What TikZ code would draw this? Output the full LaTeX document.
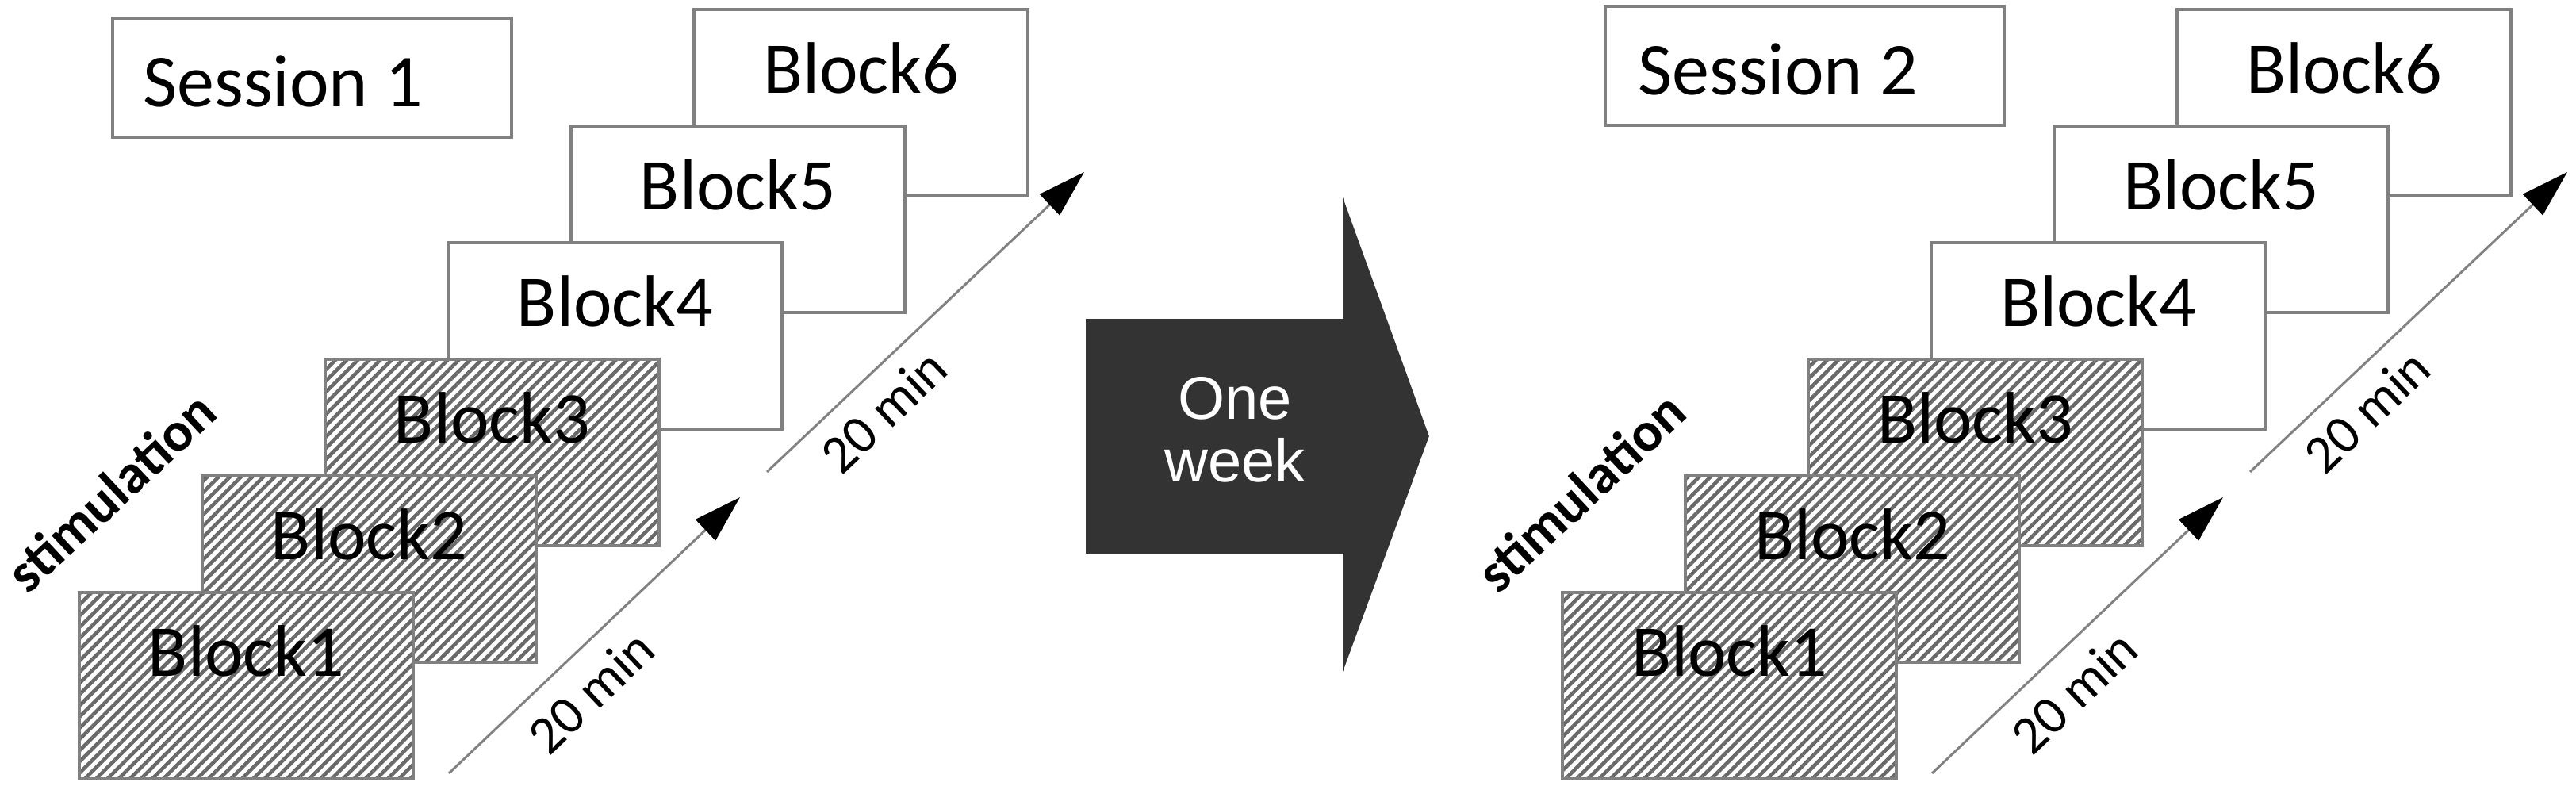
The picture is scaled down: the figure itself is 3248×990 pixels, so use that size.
\documentclass[tikz,border=0pt]{standalone}
\usepackage{fontspec}
\setmainfont{Carlito}
\newfontfamily\arialfont{Liberation Sans}
\usetikzlibrary{arrows.meta,patterns.meta}
\definecolor{boxgray}{RGB}{128,128,128}
\definecolor{hatchgray}{RGB}{105,105,105}
\definecolor{arrowdark}{RGB}{51,51,51}
\definecolor{linegray}{RGB}{130,130,130}
\begin{document}
\begin{tikzpicture}[x=0.5pt,y=0.5pt,
  blockbox/.style={draw=boxgray, line width=2.2pt, fill=white, minimum width=210.5pt, minimum height=117.5pt, inner sep=0pt, outer sep=0pt},
  hatchbox/.style={draw=boxgray, line width=2.2pt, preaction={fill=white}, pattern={Lines[angle=45,distance=5pt,line width=2.3pt]}, pattern color=hatchgray, minimum width=210.5pt, minimum height=117.5pt, inner sep=0pt, outer sep=0pt},
  blocktext/.style={font=\fontsize{46pt}{55pt}\selectfont, anchor=base, inner sep=0pt},
  sessionbox/.style={draw=boxgray, line width=2.2pt, fill=white, minimum width=251.5pt, minimum height=75pt, inner sep=0pt, outer sep=0pt},
  sessiontext/.style={font=\fontsize{47pt}{55pt}\selectfont, anchor=base west, inner sep=0pt},
  timeline/.style={draw=linegray, line width=1.5pt, -{Triangle[length=30pt,width=18pt,black]}},
  mintext/.style={font=\fontsize{34pt}{40pt}\selectfont, inner sep=0pt, rotate=43.5},
  stimtext/.style={font=\bfseries\fontsize{35pt}{40pt}\selectfont, inner sep=0pt, rotate=43},
  bigarrow/.style={fill=arrowdark, draw=arrowdark, line width=0.8pt},
  weektext/.style={font=\arialfont\fontsize{38pt}{40pt}\selectfont, text=white, anchor=base, inner sep=0pt}
]
\path[fill=white] (0,0) rectangle (3248,990);
\useasboundingbox (0,0) rectangle (3248,990);

\foreach \p/\dx in {L/0,R/1870} {
\begin{scope}[xshift=\dx*0.5pt]
  \node[blockbox] (\p6) at (1085.5,860.5) {};
  \node[blocktext] (\p t6) at ([yshift=-53pt]\p6.north) {Block6};
  \node[blockbox] (\p5) at (930.5,713.5) {};
  \node[blocktext] (\p t5) at ([yshift=-53pt]\p5.north) {Block5};
  \node[blockbox] (\p4) at (775.5,566.5) {};
  \node[blocktext] (\p t4) at ([yshift=-53pt]\p4.north) {Block4};
  \node[hatchbox] (\p3) at (620.5,419.5) {};
  \node[blocktext] (\p t3) at ([yshift=-53pt]\p3.north) {Block3};
  \node[hatchbox] (\p2) at (465.5,272.5) {};
  \node[blocktext] (\p t2) at ([yshift=-53pt]\p2.north) {Block2};
  \node[hatchbox] (\p1) at (310.5,125.5) {};
  \node[blocktext] (\p t1) at ([yshift=-53pt]\p1.north) {Block1};
  \coordinate (\p-s1) at (566,15);
  \coordinate (\p-e1) at (933,363);
  \coordinate (\p-s2) at (967,395);
  \coordinate (\p-e2) at (1367,773);
  \draw[timeline] (\p-s1) -- (\p-e1);
  \draw[timeline] (\p-s2) -- (\p-e2);
  \node[mintext] (\p-m1) at (745,118) {20 min};
  \node[mintext] (\p-m2) at (1114,472) {20 min};
\end{scope}
}

\node[sessionbox] (s1) at (393.5,892) {};
\node[sessiontext] (s1t) at (180,855) {Session 1};
\node[sessionbox] (s2) at (2275.5,907) {};
\node[sessiontext] (s2t) at (2065,870) {Session 2};

\node[stimtext] (stimL) at (140,370) {stimulation};
\node[stimtext] (stimR) at (1993,370) {stimulation};

\path[bigarrow] (1370,587) -- (1694,587) -- (1694,736) -- (1801,440) -- (1694,148) -- (1694,293) -- (1370,293) -- cycle;
\node[weektext] (one) at (1557,461) {One};
\node[weektext] (week) at (1557,382) {week};
\end{tikzpicture}
\end{document}
